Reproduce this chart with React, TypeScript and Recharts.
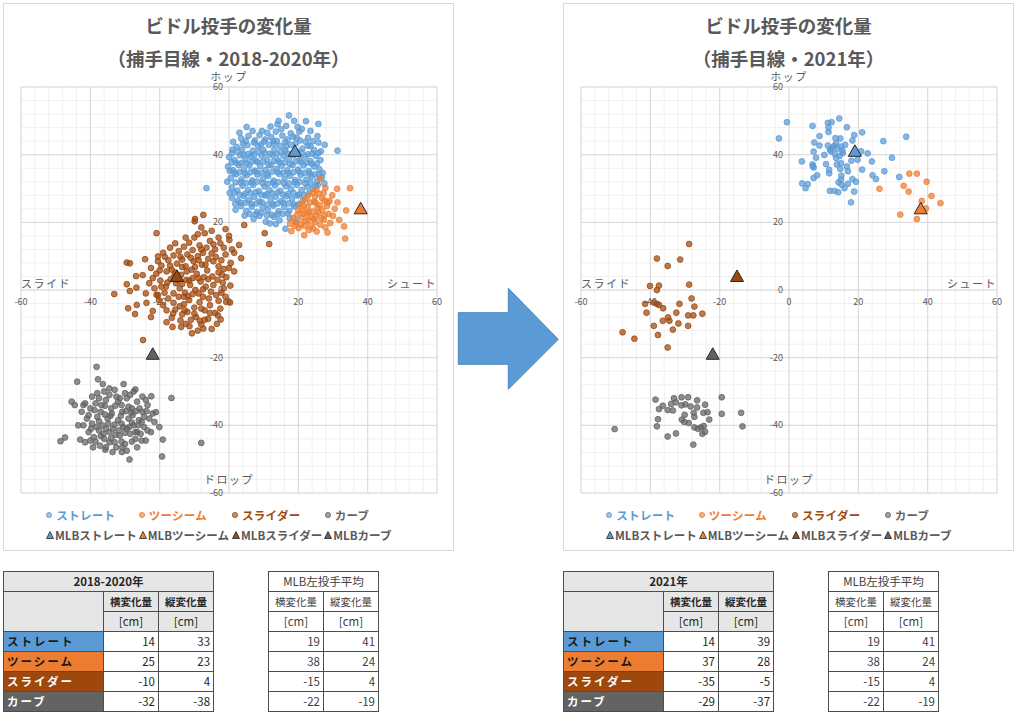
import React from 'react';
import { ScatterChart, Scatter, XAxis, YAxis, CartesianGrid, ReferenceLine, ReferenceDot } from 'recharts';

const FONT = '"Noto Sans CJK JP", "Noto Sans", sans-serif';
const TEXT = '#595959';

const pitchNames = ['ストレート', 'ツーシーム', 'スライダー', 'カーブ'];
const pitchColors = ['#5B9BD5', '#ED7D31', '#9E480E', '#636363'];
const mlbNames = ['MLBストレート', 'MLBツーシーム', 'MLBスライダー', 'MLBカーブ'];
const tableTextColors = ['#1a1a1a', '#1a1a1a', '#ffffff', '#ffffff'];

const majorTicks = [-60, -40, -20, 0, 20, 40, 60];
const minorTicks = [
  -60, -56, -52, -48, -44, -40, -36, -32, -28, -24, -20, -16, -12, -8, -4, 0,
  4, 8, 12, 16, 20, 24, 28, 32, 36, 40, 44, 48, 52, 56, 60,
];

// MLB left-handed pitcher averages [横, 縦]
const mlbAvg = [[19, 41], [38, 24], [-15, 4], [-22, -19]];

// table values
const stats1820 = [[14, 33], [25, 23], [-10, 4], [-32, -38]];
const stats2021 = [[14, 39], [37, 28], [-35, -5], [-29, -37]];

// 2018-2020 pitches [x, y]
const straight1820 = [
  [14.3, 50.0], [17.3, 51.6], [22.2, 49.9], [25.8, 49.1],
  [5.1, 48.2], [9.5, 47.0], [12.0, 48.3], [15.0, 47.5], [16.5, 48.5], [19.8, 48.2], [21.0, 47.6], [11.0, 46.5], [13.5, 46.8], [17.8, 46.3], [20.3, 46.8],
  [3.5, 44.8], [5.6, 45.5], [7.5, 44.2], [8.8, 45.8], [10.5, 44.5], [12.2, 45.2], [13.8, 44.1], [15.4, 45.6], [16.9, 44.5], [18.5, 45.3], [20.5, 44.2], [22.8, 45.0], [24.2, 44.0],
  [0.9, 40.4], [2.2, 42.3], [3.8, 41.5], [5.3, 42.8], [6.9, 41.2], [8.4, 42.5], [9.9, 41.4], [11.5, 42.9], [13.1, 41.6], [14.7, 42.6], [16.2, 41.3], [17.9, 42.9], [21.2, 41.8], [22.8, 42.7], [24.5, 41.4], [27.6, 42.9], [31.3, 41.2], [25.8, 43.6],
  [0.0, 39.3], [1.6, 38.4], [3.2, 39.8], [4.7, 38.6], [6.3, 39.5], [7.8, 38.2], [9.4, 39.7], [11.0, 38.5], [12.6, 39.9], [14.1, 38.3], [15.7, 39.6], [17.3, 38.8], [18.8, 39.9], [20.4, 38.5], [22.0, 39.4], [23.5, 38.1], [25.1, 39.6], [26.4, 38.4],
  [-0.3, 36.5], [1.2, 35.4], [2.8, 36.9], [4.3, 35.6], [5.9, 36.8], [7.4, 35.3], [9.0, 36.6], [10.6, 35.5], [12.1, 36.9], [13.7, 35.8], [15.2, 36.7], [16.8, 35.4], [18.3, 36.9], [19.9, 35.6], [21.5, 36.8], [23.0, 35.2], [24.6, 36.5], [26.1, 35.7], [27.0, 34.6],
  [0.5, 33.1], [2.0, 34.2], [3.6, 32.7], [5.1, 33.9], [6.7, 32.4], [8.2, 34.1], [9.8, 32.8], [11.3, 33.7], [12.9, 32.3], [14.5, 34.3], [16.0, 32.9], [17.6, 33.8], [19.1, 32.5], [20.7, 34.0], [22.3, 32.6], [23.8, 33.5], [25.4, 32.2], [26.8, 33.3],
  [-6.5, 30.1], [0.8, 30.3], [2.4, 29.4], [3.9, 30.8], [5.5, 29.6], [7.0, 31.0], [8.6, 29.2], [10.2, 30.6], [11.7, 29.5], [13.3, 30.9], [14.8, 29.3], [16.4, 30.7], [17.9, 29.8], [19.5, 31.1], [21.0, 29.6], [22.6, 30.5], [24.2, 29.9], [25.6, 31.0],
  [0.9, 27.2], [2.6, 26.4], [4.2, 27.8], [5.7, 26.6], [7.3, 27.5], [8.8, 26.2], [10.4, 27.9], [12.0, 26.8], [13.5, 27.6], [15.1, 26.3], [16.6, 27.7], [18.2, 26.9], [19.7, 27.9], [21.3, 26.5],
  [1.9, 23.7], [3.5, 24.8], [5.0, 23.4], [6.6, 24.6], [8.1, 23.1], [9.7, 24.4], [11.2, 23.6], [12.8, 24.9], [14.3, 23.3], [15.9, 24.5], [17.4, 23.4], [18.8, 24.7],
  [7.1, 21.0], [8.8, 21.9], [10.6, 20.2], [11.8, 19.7], [13.0, 21.6], [14.6, 20.6], [15.5, 22.5], [16.3, 18.1], [17.5, 21.2], [19.4, 20.3],
  [4.0, 43.3], [7.2, 43.6], [10.1, 43.9], [13.0, 43.3], [16.2, 43.7], [19.3, 43.4], [22.1, 43.8],
  [2.5, 40.9], [5.5, 40.2], [8.6, 40.8], [11.8, 40.3], [15.0, 40.9], [18.1, 40.2], [21.0, 40.6], [24.0, 40.3],
  [2.1, 37.6], [5.1, 37.4], [8.2, 37.8], [11.4, 37.1], [14.6, 37.7], [17.6, 37.2], [20.8, 37.8], [23.9, 37.3],
  [1.5, 34.7], [4.6, 34.5], [7.8, 35.0], [10.9, 34.3], [14.0, 34.8], [17.1, 34.6], [20.2, 35.0], [23.3, 34.4], [26.0, 34.0],
  [1.9, 31.8], [5.0, 31.6], [8.1, 32.0], [11.2, 31.4], [14.2, 31.9], [17.3, 31.5], [20.4, 32.0], [23.5, 31.7],
  [1.5, 28.8], [4.6, 28.4], [7.7, 28.9], [10.9, 28.3], [14.0, 28.8], [17.1, 28.5], [20.2, 28.2], [23.0, 28.6],
  [3.3, 25.8], [6.4, 25.5], [9.5, 25.9], [12.6, 25.4], [15.7, 25.8], [18.7, 25.3],
  [6.0, 22.5], [9.4, 22.8], [12.4, 22.2],
  [3.0, 46.5], [6.8, 47.0], [14.0, 49.0], [18.8, 50.0], [23.5, 47.0], [25.5, 45.5],
  [1.2, 43.8], [4.8, 44.0], [9.2, 43.0], [12.8, 44.0], [16.5, 42.5], [19.5, 45.0], [23.5, 42.5], [26.5, 41.0],
  [1.0, 41.5], [4.2, 40.0], [7.3, 40.0], [10.4, 40.4], [13.8, 40.2], [16.8, 40.4], [19.8, 40.8], [22.8, 40.1], [25.8, 40.5],
  [0.8, 37.7], [3.6, 37.5], [6.6, 38.0], [9.8, 37.9], [13.0, 38.1], [16.1, 37.7], [19.2, 38.0], [22.4, 37.6], [25.4, 37.4],
  [0.2, 35.2], [3.1, 34.8], [6.2, 34.8], [9.4, 34.6], [12.5, 35.0], [15.6, 34.7], [18.6, 34.8], [21.8, 34.6], [24.8, 34.2],
  [-0.5, 32.0], [3.4, 31.8], [6.6, 31.7], [9.7, 31.6], [12.7, 31.7], [15.8, 31.6], [18.9, 31.8], [22.0, 31.5], [25.0, 30.8], [27.5, 31.5],
  [0.2, 28.7], [3.0, 28.2], [6.2, 28.6], [9.3, 28.2], [12.4, 28.6], [15.6, 28.2], [18.6, 28.7], [21.6, 28.0],
  [1.8, 25.5], [4.8, 25.8], [8.0, 25.6], [11.0, 25.2], [14.1, 25.6], [17.2, 25.6], [20.0, 25.3],
  [4.5, 22.0], [7.8, 22.4], [11.0, 22.0], [14.0, 22.4], [17.0, 22.6], [13.5, 19.5],
];

const twoSeam1820 = [
  [34.9, 30.1], [31.2, 29.9], [33.8, 23.5], [33.2, 18.8], [33.5, 15.2], [25.3, 17.3], [21.7, 16.2], [18.0, 17.4],
  [26.3, 32.8], [31.3, 25.9], [29.0, 26.3], [26.9, 27.1], [25.2, 29.6], [30.5, 24.0], [28.7, 22.5], [27.4, 20.8],
  [29.2, 19.8], [31.8, 20.7], [20.5, 25.4], [22.0, 26.8], [23.4, 25.9], [24.8, 27.6], [26.2, 25.0], [27.6, 26.4],
  [21.2, 23.6], [22.7, 24.5], [24.1, 23.2], [25.5, 24.3], [26.9, 23.5], [28.2, 24.8], [19.6, 22.2], [21.0, 21.4],
  [22.4, 22.6], [23.8, 21.5], [25.2, 22.0], [26.6, 21.2], [19.3, 20.0], [20.7, 19.4], [22.1, 20.3], [23.5, 19.1],
  [24.9, 20.1], [26.3, 19.3], [20.1, 18.3], [23.0, 17.7], [24.3, 18.2], [27.8, 18.5], [19.0, 19.0], [18.5, 21.3],
  [22.8, 27.9], [24.2, 28.8], [25.9, 28.4], [27.3, 28.7], [29.8, 28.0], [27.8, 30.2], [24.6, 26.1], [21.6, 24.9],
  [30.0, 21.9], [28.4, 17.0], [17.6, 19.6],
  [21.5, 22.5], [23.0, 23.0], [25.8, 23.0], [27.5, 22.0], [24.5, 21.0], [22.8, 20.8], [20.0, 23.5], [28.5, 25.8],
  [25.0, 25.8], [21.8, 19.0],
];

const slider1820 = [
  [-7.4, 22.2], [-9.8, 21.0], [-9.9, 20.3], [-20.9, 16.8], [4.4, 19.2], [10.3, 16.8], [11.6, 13.6], [0.0, 16.0],
  [-29.5, 8.1], [-28.6, 7.9], [-24.2, 9.1], [-20.5, 9.9], [-26.8, 4.1], [-24.9, 4.4], [-29.5, 1.7], [-26.7, 0.7],
  [-33.1, -1.2], [-28.6, -0.3], [3.5, 9.4], [2.9, 13.3], [0.9, 12.0], [0.1, 14.8], [-29.1, -5.4], [-27.1, -7.1],
  [-26.6, -4.4], [-23.8, -3.8], [-22.0, -6.2], [-20.9, -1.4], [-16.3, -10.9], [-13.8, -10.9], [-10.7, -12.8], [-11.4, -10.7],
  [-7.4, -11.4], [-8.4, -9.1], [-2.4, -8.7], [-0.8, -3.5], [0.3, -3.7], [0.4, 1.3], [-24.8, -14.8], [-16.1, -6.9], [-13.5, -7.2],
  [-22.5, 6.5], [-21.0, 4.8], [-19.5, 7.2], [-18.0, 5.5], [-23.0, 2.0], [-21.5, 0.5], [-19.8, 2.8], [-18.2, 1.0],
  [-17.5, 8.8], [-16.0, 10.2], [-14.5, 11.5], [-13.0, 12.8], [-11.5, 14.0], [-10.0, 15.5], [-8.5, 13.2], [-7.0, 16.8],
  [-5.5, 14.5], [-4.0, 12.0], [-2.5, 13.8], [-1.0, 10.5], [-16.5, 6.0], [-15.0, 7.8], [-13.5, 9.0], [-12.0, 10.5],
  [-10.5, 11.8], [-9.0, 10.0], [-7.5, 11.0], [-6.0, 9.2], [-4.5, 8.5], [-3.0, 7.0], [-1.5, 6.2], [0.5, 8.0], [1.5, 5.5],
  [-16.8, 3.2], [-15.3, 2.0], [-13.8, 4.5], [-12.3, 3.0], [-10.8, 6.0], [-9.3, 4.8], [-7.8, 7.5], [-6.3, 5.8],
  [-4.8, 4.0], [-3.3, 3.0], [-1.8, 2.2], [-14.2, 0.5], [-12.7, -0.8], [-11.2, 1.5], [-9.7, 0.0], [-8.2, 2.5],
  [-6.7, 1.0], [-5.2, -0.5], [-3.7, -1.5], [-2.2, -0.8], [-17.5, -2.5], [-16.0, -3.8], [-14.5, -2.0], [-13.0, -4.2],
  [-11.5, -3.0], [-10.0, -5.2], [-8.5, -3.6], [-7.0, -6.0], [-5.5, -4.5], [-4.0, -6.8], [-12.0, -6.5], [-9.5, -8.0],
  [-6.0, -8.5], [-19.0, -4.5], [-15.5, -5.8], [-11.0, -8.8], [-8.0, -10.2], [-3.5, -10.0], [-13.5, 6.8], [-10.2, 8.5],
  [-7.2, 3.8], [-5.0, 10.8], [-11.8, -1.8], [-8.8, -1.0], [-15.8, 4.2], [-18.6, -0.8], [-20.2, -3.0], [-24.0, -1.0],
  [-22.5, -8.0], [-18.0, -9.5], [-12.5, 7.0], [-9.0, 16.5], [-6.5, 12.5], [-3.0, 15.5], [-2.0, 4.5], [-4.5, 1.5],
  [-7.5, -2.0], [-10.5, 3.5], [-13.5, 1.8], [-9.0, -12.0], [-5.0, -11.5], [-14.0, -9.0], [-1.0, -2.0], [-2.5, -5.5],
  [-19.0, 11.0], [-17.0, 12.5], [-15.5, 13.8], [-12.5, 15.5], [-8.0, 18.5], [-5.0, 17.5], [-1.0, 18.0],
  [-20.5, 8.5], [-18.5, 9.8], [-14.0, 9.8], [-11.0, 9.5], [-8.0, 12.0], [-4.5, 13.5], [-1.5, 12.5], [1.5, 11.0],
  [-22.0, 3.5], [-20.0, 5.8], [-17.0, 7.2], [-15.5, 5.2], [-12.2, 5.5], [-9.8, 6.8], [-8.8, 8.8], [-6.8, 7.5],
  [-3.8, 9.8], [-2.2, 8.8], [0.0, 6.5], [-19.5, 1.0], [-17.8, 2.2], [-15.0, 3.0], [-11.5, 2.8], [-8.8, 3.5],
  [-6.0, 3.2], [-3.0, 5.2], [-0.8, 3.8], [-20.5, -1.5], [-16.0, -1.0], [-13.0, -2.0], [-10.5, -1.2], [-7.5, 0.2],
  [-5.8, -2.5], [-3.0, -3.2], [-1.5, 0.5], [-18.0, -6.0], [-14.2, -4.8], [-12.8, -6.0], [-10.0, -7.0], [-8.0, -5.5],
  [-5.5, -6.8], [-3.2, -7.5], [-16.5, -8.2], [-12.5, -10.0], [-7.0, -8.8],
];

const curve1820 = [
  [-38.2, -22.7], [-43.8, -27.1], [-37.8, -26.4], [-45.4, -33.0], [-48.6, -44.7], [-47.3, -43.6], [-42.9, -44.2], [-16.6, -31.9],
  [-8.0, -45.2], [-19.3, -49.2], [-28.7, -50.1], [-35.7, -47.2], [-33.6, -47.9], [-30.9, -47.9], [-19.1, -44.2], [-20.1, -40.5],
  [-21.1, -36.1], [-22.4, -31.4], [-36.4, -27.8], [-34.5, -29.1], [-30.4, -27.8], [-27.0, -29.4],
  [-40.0, -35.0], [-38.5, -33.5], [-37.0, -36.0], [-35.5, -32.5], [-34.0, -35.0], [-32.5, -31.5], [-31.0, -34.0], [-29.5, -32.0],
  [-28.0, -35.0], [-26.5, -33.0], [-25.0, -36.0], [-23.5, -34.0], [-41.0, -38.0], [-39.5, -39.5], [-38.0, -37.5], [-36.5, -40.0],
  [-35.0, -38.0], [-33.5, -41.0], [-32.0, -38.5], [-30.5, -40.5], [-29.0, -38.0], [-27.5, -40.0], [-26.0, -38.5], [-24.5, -40.5],
  [-23.0, -38.0], [-40.5, -42.0], [-39.0, -43.5], [-37.5, -41.5], [-36.0, -44.0], [-34.5, -42.0], [-33.0, -45.0], [-31.5, -43.0],
  [-30.0, -45.5], [-28.5, -42.5], [-27.0, -44.0], [-25.5, -42.5], [-24.0, -44.5], [-38.0, -30.5], [-36.0, -30.0], [-33.0, -29.5],
  [-30.0, -30.5], [-27.5, -30.0], [-25.0, -31.5], [-42.5, -36.0], [-43.5, -40.0], [-41.5, -45.0], [-36.8, -34.0], [-33.8, -36.5],
  [-30.8, -36.0], [-27.8, -37.0], [-34.8, -39.5], [-31.8, -41.5], [-28.8, -40.5], [-35.5, -46.5], [-32.5, -46.5], [-29.5, -47.5],
  [-26.5, -46.5], [-22.5, -42.0], [-21.5, -39.0], [-39.2, -46.5], [-44.5, -34.0], [-37.5, -32.0], [-32.0, -33.0], [-29.0, -34.5],
  [-25.8, -35.0], [-35.8, -36.8], [-33.0, -39.8], [-30.0, -42.2], [-27.0, -42.0], [-24.5, -37.5], [-38.5, -44.8], [-41.5, -33.5],
  [-34.0, -43.8], [-31.2, -37.2], [-28.2, -36.2], [-26.2, -40.0], [-36.2, -42.5], [-39.8, -41.0],
  [-39.5, -31.5], [-34.5, -31.0], [-31.5, -32.0], [-28.5, -31.0], [-24.0, -32.5], [-42.0, -34.0], [-38.8, -35.5], [-35.8, -34.2],
  [-32.8, -34.2], [-29.8, -35.8], [-26.8, -35.8], [-23.8, -35.8], [-40.5, -37.0], [-37.5, -38.8], [-34.2, -37.2], [-31.0, -39.5],
  [-28.0, -39.2], [-25.2, -39.0], [-22.0, -36.5], [-42.0, -40.0], [-38.2, -40.5], [-35.5, -41.0], [-32.8, -42.8], [-29.5, -41.0],
  [-26.5, -42.0], [-23.5, -41.5], [-40.0, -44.5], [-37.0, -43.2], [-34.5, -45.0], [-31.0, -44.8], [-28.0, -44.8], [-25.2, -44.5],
  [-37.2, -46.0], [-30.8, -46.5],
];

// 2021 pitches [x, y]
const straight2021 = [
  [-0.6, 49.6], [-2.9, 44.8], [3.7, 38.0], [3.8, 31.5], [5.4, 31.3], [4.8, 30.1], [6.8, 48.5], [7.3, 43.6],
  [7.1, 40.9], [7.8, 39.1], [6.8, 37.1], [7.1, 36.2], [6.9, 36.6], [8.1, 33.9], [7.1, 33.1], [8.8, 45.5],
  [8.8, 42.7], [10.2, 39.9], [10.7, 37.2], [11.2, 49.4], [12.3, 49.6], [11.4, 48.0], [11.4, 46.7], [11.2, 42.7],
  [11.8, 41.5], [12.1, 41.0], [12.4, 42.0], [11.6, 35.5], [11.6, 34.5], [11.8, 29.3], [13.1, 29.3], [13.4, 44.9],
  [13.6, 43.4], [13.0, 42.5], [13.6, 39.0], [13.8, 37.1], [14.3, 31.8], [14.2, 28.9], [14.5, 50.7], [14.8, 44.8],
  [15.0, 42.4], [15.5, 40.5], [15.0, 37.5], [14.8, 35.8], [15.1, 33.8], [15.0, 32.6], [15.2, 31.1], [16.0, 30.1],
  [16.7, 48.1], [16.7, 36.5], [17.0, 35.1], [17.0, 31.4], [17.9, 25.9], [18.3, 44.2], [18.8, 45.8], [18.0, 38.2],
  [18.3, 32.8], [19.3, 32.0], [18.8, 29.1], [19.8, 38.5], [21.1, 46.6], [20.8, 41.0], [21.1, 35.6], [22.7, 40.4],
  [23.9, 38.0], [24.1, 33.9], [25.1, 32.8], [27.2, 44.0], [27.5, 35.1], [29.7, 39.1], [31.8, 33.4], [33.8, 45.3],
  [14.0, 41.8], [15.4, 41.2], [13.2, 40.2], [16.2, 42.9], [14.6, 39.6],
];

const twoSeam2021 = [
  [26.1, 29.9], [32.1, 22.3], [33.1, 30.8], [34.7, 34.4], [34.5, 29.1], [36.9, 34.4], [36.9, 21.0], [38.3, 26.3],
  [39.5, 24.1], [39.7, 32.0], [41.1, 27.8], [43.7, 25.7],
];

const slider2021 = [
  [-28.8, 13.6], [-38.1, 9.3], [-35.0, 7.1], [-31.4, 9.0], [-40.1, 1.2], [-37.5, 1.3], [-38.1, 0.0], [-28.8, 1.6],
  [-28.1, -2.5], [-41.5, -4.1], [-39.0, -3.7], [-38.1, -4.1], [-37.5, -4.4], [-36.3, -5.4], [-41.1, -6.7], [-31.6, -4.1],
  [-32.5, -6.7], [-27.3, -4.9], [-29.1, -7.5], [-27.6, -7.5], [-25.0, -7.0], [-34.9, -8.1], [-36.4, -9.1], [-34.5, -9.1],
  [-31.9, -9.9], [-39.0, -10.6], [-29.1, -10.6], [-33.5, -11.7], [-37.8, -13.3], [-48.0, -12.5], [-44.6, -14.4], [-35.0, -17.0],
];

const curve2021 = [
  [-38.5, -32.4], [-33.2, -32.0], [-31.0, -31.7], [-29.1, -31.7], [-26.5, -32.6], [-19.4, -31.7], [-37.5, -35.2], [-36.4, -34.2],
  [-35.0, -35.5], [-33.5, -35.6], [-34.0, -33.7], [-32.6, -33.2], [-31.0, -34.1], [-29.9, -33.8], [-28.4, -34.4], [-26.5, -34.7],
  [-24.2, -33.9], [-23.5, -36.1], [-24.7, -36.3], [-27.5, -36.3], [-30.1, -36.9], [-30.9, -38.3], [-30.2, -39.0], [-28.9, -39.3],
  [-27.3, -37.5], [-23.0, -38.3], [-37.8, -38.2], [-38.1, -40.3], [-27.3, -40.6], [-26.3, -41.0], [-25.4, -40.6], [-24.6, -40.2],
  [-24.2, -41.9], [-25.0, -42.5], [-32.6, -42.4], [-35.0, -43.3], [-27.6, -45.7], [-50.3, -41.1], [-19.4, -36.6], [-13.8, -36.3],
  [-13.4, -40.3],
];

const toPts = (arr: number[][]) => arr.map(([x, y]) => ({ x, y }));

// chart geometry
const CW = 451;
const CH = 548;
const M = { top: 84, right: 17, bottom: 58, left: 18 };
const ZERO_X = M.left + (CW - M.left - M.right) / 2;

const dotShape = (color: string) => (p: any) => (
  <circle cx={p.cx} cy={p.cy} r={2.9} fill={color} fillOpacity={0.72} stroke={color} strokeWidth={0.8} />
);

const triShape = (color: string) => (p: any) => (
  <polygon
    points={`${p.cx},${p.cy - 6.5} ${p.cx - 6.5},${p.cy + 5} ${p.cx + 6.5},${p.cy + 5}`}
    fill={color}
    stroke="#262626"
    strokeWidth={1}
  />
);

const xLabelShape = (t: number) => (p: any) => (
  <text x={p.cx} y={p.cy + 12} dy="0.35em" textAnchor="middle" fontSize={9} fill={TEXT} fontFamily={FONT}>
    {t}
  </text>
);

const yLabelShape = (t: number) => (p: any) => (
  <text x={p.cx - 6} y={p.cy} dy="0.35em" textAnchor="end" fontSize={9} fill={TEXT} fontFamily={FONT}>
    {t}
  </text>
);

const axisTitle: React.CSSProperties = {
  position: 'absolute',
  fontSize: 11,
  lineHeight: '11px',
  color: TEXT,
  letterSpacing: 1.5,
  fontFamily: FONT,
  whiteSpace: 'nowrap',
};

function Legend() {
  const row1 = [46.3, 138.7, 232, 324.7];
  const row2 = [47, 139.7, 233, 325.3];
  return (
    <>
      {pitchNames.map((n, i) => (
        <div key={n} style={{ position: 'absolute', left: row1[i] - 4, top: 504, height: 16, display: 'flex', alignItems: 'center', whiteSpace: 'nowrap' }}>
          <svg width={8} height={8}>
            <circle cx={4} cy={4} r={2.6} fill={pitchColors[i]} fillOpacity={0.6} stroke={pitchColors[i]} strokeWidth={0.8} />
          </svg>
          <span style={{ marginLeft: 3, fontSize: 11.5, fontWeight: 700, color: pitchColors[i], fontFamily: FONT, letterSpacing: 0.3 }}>{n}</span>
        </div>
      ))}
      {mlbNames.map((n, i) => (
        <div key={n} style={{ position: 'absolute', left: row2[i] - 4, top: 524, height: 16, display: 'flex', alignItems: 'center', whiteSpace: 'nowrap' }}>
          <svg width={8} height={8}>
            <polygon points="4,0.5 0.5,7.5 7.5,7.5" fill={pitchColors[i]} stroke="#262626" strokeWidth={0.8} />
          </svg>
          <span style={{ marginLeft: 1, fontSize: 11.5, fontWeight: 700, color: TEXT, fontFamily: FONT }}>{n}</span>
        </div>
      ))}
    </>
  );
}

function Panel({ ox, subtitle, series }: { ox: number; subtitle: string; series: number[][][] }) {
  return (
    <div style={{ position: 'absolute', left: 3 + ox, top: 3, width: CW, height: CH }}>
      <ScatterChart width={CW} height={CH} margin={M}>
        <CartesianGrid stroke="#f0f0f0" strokeWidth={1} />
        <XAxis
          type="number"
          dataKey="x"
          domain={[-60, 60]}
          ticks={minorTicks}
          interval={0}
          height={0}
          axisLine={false}
          tickLine={false}
          tick={() => <g />}
        />
        <YAxis
          type="number"
          dataKey="y"
          domain={[-60, 60]}
          ticks={minorTicks}
          interval={0}
          width={0}
          axisLine={false}
          tickLine={false}
          tick={() => <g />}
        />
        {majorTicks.map((t) => (
          <ReferenceLine key={'vx' + t} x={t} stroke="#d9d9d9" strokeWidth={1} />
        ))}
        {majorTicks.map((t) => (
          <ReferenceLine key={'hy' + t} y={t} stroke="#d9d9d9" strokeWidth={1} />
        ))}
        {majorTicks.map((t) => (
          <ReferenceDot key={'lx' + t} x={t} y={0} r={0} shape={xLabelShape(t)} />
        ))}
        {majorTicks.map((t) => (
          <ReferenceDot key={'ly' + t} x={0} y={t} r={0} shape={yLabelShape(t)} />
        ))}
        {series.map((s, i) => (
          <Scatter key={pitchNames[i]} name={pitchNames[i]} data={toPts(s)} isAnimationActive={false} shape={dotShape(pitchColors[i])} />
        ))}
        {mlbAvg.map((p, i) => (
          <Scatter key={mlbNames[i]} name={mlbNames[i]} data={toPts([p])} isAnimationActive={false} shape={triShape(pitchColors[i])} />
        ))}
      </ScatterChart>
      <div style={{ position: 'absolute', inset: 0, border: '1px solid #d9d9d9', pointerEvents: 'none' }} />
      <div style={{ position: 'absolute', left: 0, top: 11, width: CW, textAlign: 'center', fontSize: 18.5, fontWeight: 700, lineHeight: '22px', color: TEXT, fontFamily: FONT }}>
        ビドル投手の変化量
      </div>
      <div style={{ position: 'absolute', left: 0, top: 44, width: CW, textAlign: 'center', fontSize: 18.5, fontWeight: 700, lineHeight: '22px', color: TEXT, fontFamily: FONT }}>
        {subtitle}
      </div>
      <div style={{ ...axisTitle, left: ZERO_X - 40, width: 80, textAlign: 'center', top: 67.5 }}>ホップ</div>
      <div style={{ ...axisTitle, left: ZERO_X - 40, width: 80, textAlign: 'center', top: 471 }}>ドロップ</div>
      <div style={{ ...axisTitle, left: M.left, top: 274.5 }}>スライド</div>
      <div style={{ ...axisTitle, right: M.right, top: 274.5 }}>シュート</div>
      <Legend />
    </div>
  );
}

const cell: React.CSSProperties = {
  border: '1px solid #4d4d4d',
  height: 19,
  padding: '0 3px',
  fontSize: 11.5,
  lineHeight: '19px',
  fontFamily: FONT,
  whiteSpace: 'nowrap',
  overflow: 'hidden',
};

function MainTable({ left, title, stats }: { left: number; title: string; stats: number[][] }) {
  const gray = '#e7e6e6';
  return (
    <table style={{ position: 'absolute', left, top: 571, borderCollapse: 'collapse', tableLayout: 'fixed', width: 210 }}>
      <colgroup>
        <col style={{ width: 100 }} />
        <col style={{ width: 55 }} />
        <col style={{ width: 55 }} />
      </colgroup>
      <tbody>
        <tr>
          <td colSpan={3} style={{ ...cell, background: gray, textAlign: 'center', fontWeight: 700, color: '#262626' }}>{title}</td>
        </tr>
        <tr>
          <td rowSpan={2} style={{ ...cell, background: gray }} />
          <td style={{ ...cell, background: gray, textAlign: 'center', fontWeight: 700, fontSize: 10.5, color: '#262626' }}>横変化量</td>
          <td style={{ ...cell, background: gray, textAlign: 'center', fontWeight: 700, fontSize: 10.5, color: '#262626' }}>縦変化量</td>
        </tr>
        <tr>
          <td style={{ ...cell, background: gray, textAlign: 'center', color: '#262626' }}>[cm]</td>
          <td style={{ ...cell, background: gray, textAlign: 'center', color: '#262626' }}>[cm]</td>
        </tr>
        {stats.map((r, i) => (
          <tr key={pitchNames[i]}>
            <td style={{ ...cell, background: pitchColors[i], color: tableTextColors[i], fontWeight: 700, letterSpacing: 2 }}>{pitchNames[i]}</td>
            <td style={{ ...cell, textAlign: 'right', color: '#262626' }}>{r[0]}</td>
            <td style={{ ...cell, textAlign: 'right', color: '#262626' }}>{r[1]}</td>
          </tr>
        ))}
      </tbody>
    </table>
  );
}

function MlbTable({ left }: { left: number }) {
  const c = { ...cell, color: '#404040' };
  return (
    <table style={{ position: 'absolute', left, top: 571, borderCollapse: 'collapse', tableLayout: 'fixed', width: 110 }}>
      <colgroup>
        <col style={{ width: 55 }} />
        <col style={{ width: 55 }} />
      </colgroup>
      <tbody>
        <tr>
          <td colSpan={2} style={{ ...c, textAlign: 'center' }}>MLB左投手平均</td>
        </tr>
        <tr>
          <td style={{ ...c, textAlign: 'center', fontSize: 10.5 }}>横変化量</td>
          <td style={{ ...c, textAlign: 'center', fontSize: 10.5 }}>縦変化量</td>
        </tr>
        <tr>
          <td style={{ ...c, textAlign: 'center' }}>[cm]</td>
          <td style={{ ...c, textAlign: 'center' }}>[cm]</td>
        </tr>
        {mlbAvg.map((r, i) => (
          <tr key={mlbNames[i]}>
            <td style={{ ...c, textAlign: 'right' }}>{r[0]}</td>
            <td style={{ ...c, textAlign: 'right' }}>{r[1]}</td>
          </tr>
        ))}
      </tbody>
    </table>
  );
}

export default function App() {
  return (
    <div style={{ position: 'absolute', left: 0, top: 0, width: 1024, height: 720, background: '#fff', fontFamily: FONT }}>
      <Panel ox={0} subtitle="（捕手目線・2018-2020年）" series={[straight1820, twoSeam1820, slider1820, curve1820]} />
      <Panel ox={560} subtitle="（捕手目線・2021年）" series={[straight2021, twoSeam2021, slider2021, curve2021]} />
      <svg style={{ position: 'absolute', left: 0, top: 0 }} width={1024} height={720} pointerEvents="none">
        <polygon
          points="458.3,312.7 508.3,312.7 508.3,288.3 558.3,339.3 508.3,389.3 508.3,364.3 458.3,364.3"
          fill="#5B9BD5"
          stroke="#4a86c0"
          strokeWidth={1}
        />
      </svg>
      <MainTable left={3} title="2018-2020年" stats={stats1820} />
      <MlbTable left={268} />
      <MainTable left={563} title="2021年" stats={stats2021} />
      <MlbTable left={828} />
    </div>
  );
}
